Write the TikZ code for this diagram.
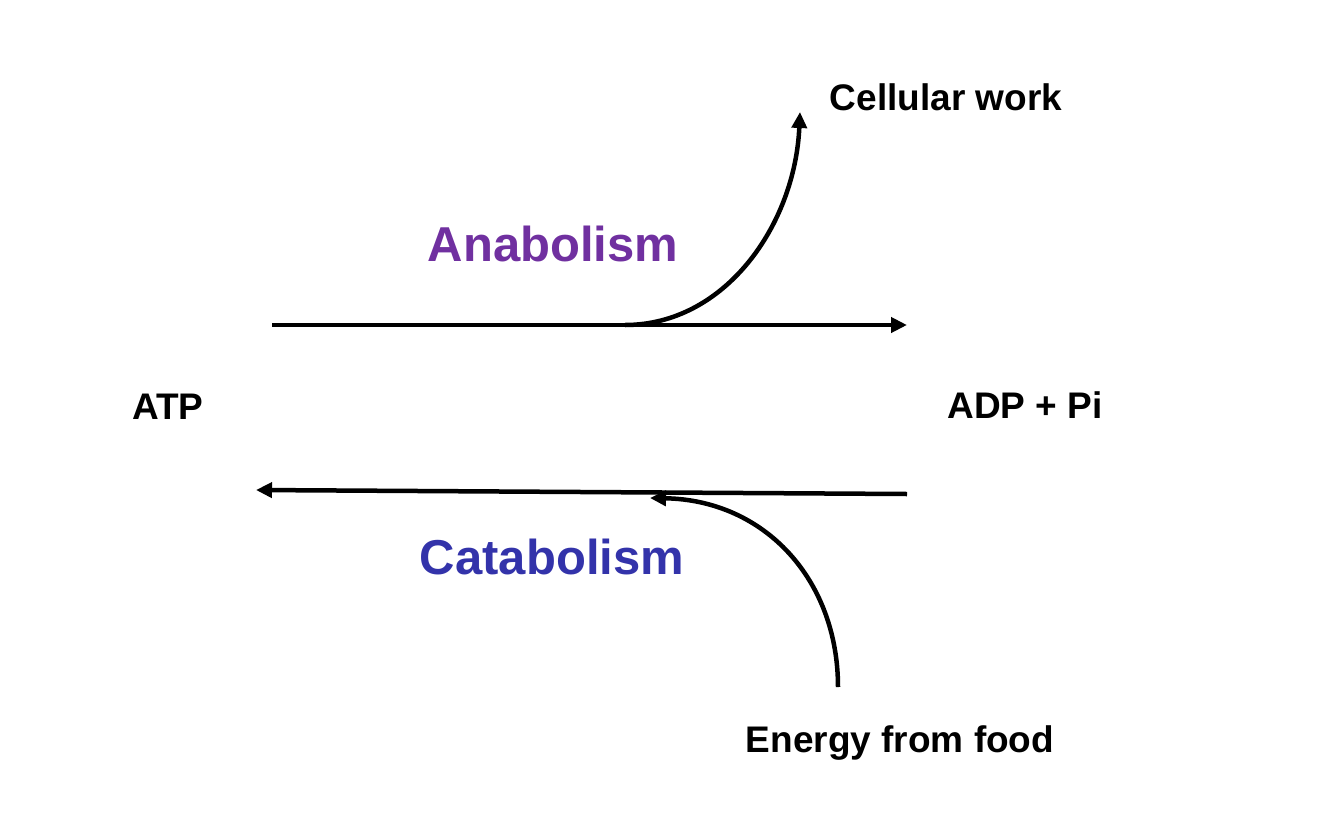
\documentclass[tikz,border=0pt]{standalone}
\usepackage{fontspec}
\setmainfont{Liberation Sans}
\usetikzlibrary{arrows.meta}

\definecolor{anacol}{RGB}{112,48,160}
\definecolor{catacol}{RGB}{51,51,170}

\begin{document}
\begin{tikzpicture}[x=1pt,y=-1pt,
    label/.style={font=\bfseries\fontsize{37}{44}\selectfont,inner sep=0pt},
    process/.style={font=\bfseries\fontsize{49}{58}\selectfont,inner sep=0pt},
    flow/.style={line width=4.5pt,-{Triangle[length=16pt,width=15pt]}}]
    % Page frame
    \useasboundingbox (0,0) rectangle (1334,817);

    % ---- Labels ----
    \node[label] (atp) at (168,407) {ATP};
    \node[label] (adp) at (1025,405) {ADP + Pi};
    \node[label] (work) at (946,97) {Cellular work};
    \node[label] (food) at (900,743) {Energy from food};
    \node[process,text=anacol] (ana) at (553,244) {Anabolism};
    \node[process,text=catacol] (cata) at (552,557) {Catabolism};

    % ---- Anabolism (top) ----
    \coordinate (topstart) at (272,325);
    \coordinate (topend) at (907,325);
    \coordinate (topsplit) at (625,325);
    \coordinate (worktip) at (800,112);
    \draw[flow] (topstart) -- (topend);
    \draw[flow] (topsplit) .. controls (725,325) and (795,225) .. (worktip);

    % ---- Catabolism (bottom) ----
    \coordinate (botstart) at (907,494);
    \coordinate (botend) at (256,490);
    \coordinate (foodfoot) at (838,687);
    \coordinate (foodtip) at (650,498);
    \draw[flow] (botstart) -- (botend);
    \draw[flow] (foodfoot) .. controls (838,580) and (765,500) .. (foodtip);
\end{tikzpicture}
\end{document}
